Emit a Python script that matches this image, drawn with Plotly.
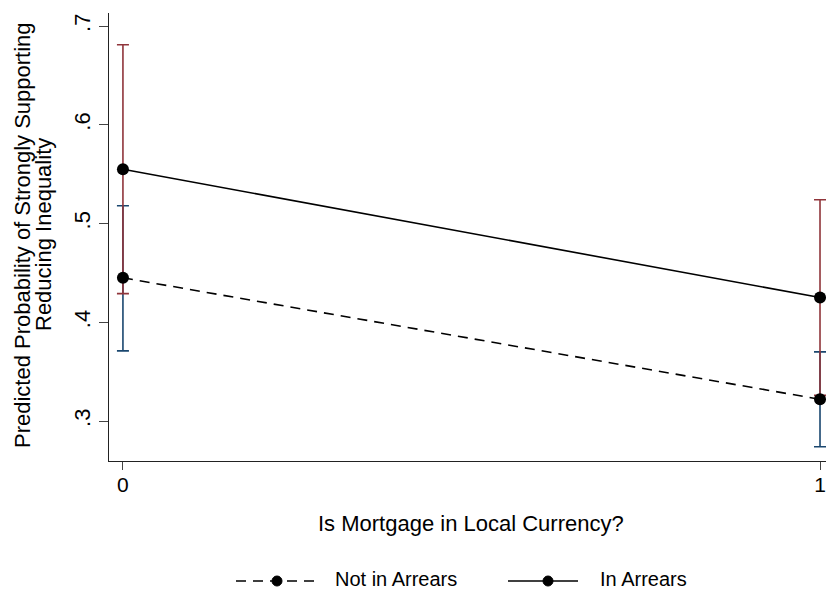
import plotly.graph_objects as go

# Predicted probabilities with 95% confidence intervals
mortgage_local = [0, 1]
x_ticks = [0, 1]
x_tick_labels = ["0", "1"]
y_ticks = [0.3, 0.4, 0.5, 0.6, 0.7]
y_tick_labels = [".3", ".4", ".5", ".6", ".7"]

not_arrears = [0.445, 0.322]
not_arrears_lo = [0.371, 0.274]
not_arrears_hi = [0.518, 0.370]

in_arrears = [0.555, 0.425]
in_arrears_lo = [0.429, 0.326]
in_arrears_hi = [0.681, 0.524]

NAVY = "#1a476f"
MAROON = "#90353b"
FONT = "Liberation Sans, Arial, Helvetica, sans-serif"


def ci_trace(est, lo, hi, color):
    return go.Scatter(
        x=mortgage_local, y=est, mode="markers",
        marker=dict(size=1, color="rgba(0,0,0,0)"),
        error_y=dict(type="data", symmetric=False,
                     array=[h - e for h, e in zip(hi, est)],
                     arrayminus=[e - l for e, l in zip(est, lo)],
                     color=color, thickness=1.6, width=6),
        showlegend=False, hoverinfo="skip", cliponaxis=False,
    )


fig = go.Figure()
fig.add_trace(ci_trace(not_arrears, not_arrears_lo, not_arrears_hi, NAVY))
fig.add_trace(ci_trace(in_arrears, in_arrears_lo, in_arrears_hi, MAROON))
fig.add_trace(go.Scatter(
    x=mortgage_local, y=not_arrears, mode="lines+markers", name="Not in Arrears",
    line=dict(color="black", width=1.6, dash="10px,7px"),
    marker=dict(color="black", size=12), cliponaxis=False, showlegend=False,
))
fig.add_trace(go.Scatter(
    x=mortgage_local, y=in_arrears, mode="lines+markers", name="In Arrears",
    line=dict(color="black", width=1.6),
    marker=dict(color="black", size=12), cliponaxis=False, showlegend=False,
))

# Titles and legend row placed in paper coordinates
L, T, R, B = 109, 13, 0, 131
W, H = 826, 592
pw, ph = W - L - R, H - T - B


def px(x):
    return (x - L) / pw


def py(y):
    return (H - B - y) / ph


legend_y = 581
shapes = [
    dict(type="line", xref="paper", yref="paper", x0=px(236), x1=px(320),
         y0=py(legend_y), y1=py(legend_y),
         line=dict(color="black", width=1.6, dash="10px,7px")),
    dict(type="line", xref="paper", yref="paper", x0=px(508), x1=px(578),
         y0=py(legend_y), y1=py(legend_y),
         line=dict(color="black", width=1.6)),
]
for cx in (277, 548):
    shapes.append(dict(type="circle", xref="paper", yref="paper",
                       xsizemode="pixel", ysizemode="pixel",
                       xanchor=px(cx), yanchor=py(legend_y),
                       x0=-5, x1=5, y0=-5, y1=5,
                       fillcolor="black", line=dict(color="black", width=1)))


def label(text, x, y, size, angle=0, xanchor="center", yanchor="middle"):
    return dict(text=text, xref="paper", yref="paper", x=px(x), y=py(y),
                xanchor=xanchor, yanchor=yanchor, showarrow=False, textangle=angle,
                font=dict(family=FONT, size=size, color="black"))


annotations = [
    label("Not in Arrears", 333, 592, 20, xanchor="left", yanchor="bottom"),
    label("In Arrears", 598, 592, 20, xanchor="left", yanchor="bottom"),
    label("Is Mortgage in Local Currency?", 471, 523, 22),
    label("Predicted Probability of Strongly Supporting", 22, 235, 22, angle=-90),
    label("Reducing Inequality", 43, 235, 22, angle=-90),
]

fig.update_layout(
    width=W, height=H,
    margin=dict(l=L, r=R, t=T, b=B),
    paper_bgcolor="white", plot_bgcolor="white",
    font=dict(family=FONT, size=20, color="black"),
    shapes=shapes, annotations=annotations,
    showlegend=False,
)
fig.update_xaxes(
    range=[-0.02, 1.0086], tickvals=x_ticks, ticktext=x_tick_labels,
    showgrid=False, zeroline=False, showline=True, linecolor="#222", linewidth=1.3,
    ticks="outside", ticklen=8, tickcolor="#444", tickwidth=1.3,
    tickfont=dict(size=21), ticklabelstandoff=-3,
)
fig.update_yaxes(
    range=[0.2595, 0.7132], tickvals=y_ticks, ticktext=y_tick_labels,
    showgrid=False, zeroline=False, showline=True, linecolor="#222", linewidth=1.3,
    ticks="outside", ticklen=9, tickcolor="#444", tickwidth=1.3,
    tickangle=-90, tickfont=dict(size=22),
)

fig.write_html("out.html")
